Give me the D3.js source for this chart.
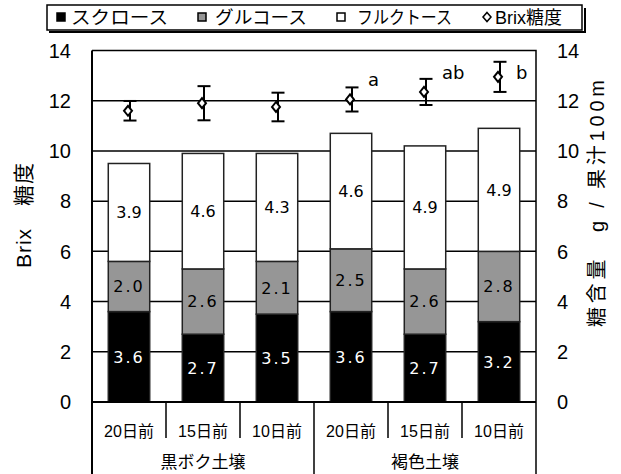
<!DOCTYPE html>
<html>
<head>
<meta charset="utf-8">
<script src="https://cdn.jsdelivr.net/npm/d3@7"></script>
<style>
  body { margin: 0; background: #fff; }
  text { font-family: "Liberation Sans", "Noto Sans CJK JP", sans-serif; fill: #000; }
  .val { font-family: "DejaVu Sans", "Noto Sans CJK JP", sans-serif; }
</style>
</head>
<body>
<div id="vis"></div>
<script>
// data
var days = ["20日前", "15日前", "10日前", "20日前", "15日前", "10日前"],
    soils = ["黒ボク土壌", "褐色土壌"],
    sucrose = [3.6, 2.7, 3.5, 3.6, 2.7, 3.2],
    glucose = [2.0, 2.6, 2.1, 2.5, 2.6, 2.8],
    fructose = [3.9, 4.6, 4.3, 4.6, 4.9, 4.9],
    brix = [11.6, 11.9, 11.75, 12.05, 12.35, 12.95],
    brixErr = [0.39, 0.68, 0.57, 0.48, 0.52, 0.6],
    sigLetters = ["", "", "", "a", "ab", "b"],
    yTicks = [0, 2, 4, 6, 8, 10, 12, 14],
    legendLabels = ["スクロース", "グルコース", "フルクトース", "Brix糖度"];

var width = 621, height = 474,
    pL = 92, pR = 536, pT = 50.5, pB = 402;

var svg = d3.select("#vis").append("svg")
    .attr("width", width)
    .attr("height", height);

var x = d3.scaleBand()
    .domain(d3.range(days.length))
    .range([pL, pR]);

var y = d3.scaleLinear()
    .domain([0, 14])
    .range([pB, pT]);

var barW = x.bandwidth() * 0.56;

// grid lines
svg.selectAll(".grid")
    .data(yTicks.slice(1, -1))
    .enter().append("line")
    .attr("x1", pL).attr("x2", pR)
    .attr("y1", function(d) { return y(d) }).attr("y2", function(d) { return y(d) })
    .attr("stroke", "#000").attr("stroke-width", 1.5);

// stacked bars
var rows = days.map(function(d, i) {
    return {i: i, suc: sucrose[i], glu: glucose[i], fru: fructose[i]};
});
var keys = ["suc", "glu", "fru"],
    fills = {suc: "#000", glu: "#969696", fru: "#fff"},
    textFill = {suc: "#fff", glu: "#000", fru: "#000"},
    spacing = {suc: 2, glu: 2, fru: 0};
var series = d3.stack().keys(keys)(rows);

var layer = svg.selectAll(".layer")
    .data(series)
    .enter().append("g")
    .attr("class", "layer");

layer.selectAll("rect")
    .data(function(s) { return s.map(function(p) { return {key: s.key, p: p} }) })
    .enter().append("rect")
    .attr("x", function(d) { return x(d.p.data.i) + (x.bandwidth() - barW) / 2 })
    .attr("width", barW)
    .attr("y", function(d) { return y(d.p[1]) })
    .attr("height", function(d) { return y(d.p[0]) - y(d.p[1]) })
    .attr("fill", function(d) { return fills[d.key] })
    .attr("stroke", "#222")
    .attr("stroke-width", 1.5);

layer.selectAll("text")
    .data(function(s) { return s.map(function(p) { return {key: s.key, p: p} }) })
    .enter().append("text")
    .attr("class", "val")
    .attr("x", function(d) { return x(d.p.data.i) + x.bandwidth() / 2 })
    .attr("y", function(d) { return (y(d.p[0]) + y(d.p[1])) / 2 })
    .attr("dy", "0.36em")
    .attr("text-anchor", "middle")
    .style("font-size", "16px")
    .style("letter-spacing", function(d) { return spacing[d.key] + "px" })
    .style("fill", function(d) { return textFill[d.key] })
    .text(function(d) { return d.p.data[d.key].toFixed(1) });

// Brix points with error bars
var pts = svg.selectAll(".brix")
    .data(brix)
    .enter().append("g")
    .attr("class", "brix")
    .attr("transform", function(d, i) { return "translate(" + (x(i) + x.bandwidth() / 2 + 1) + ",0)" });

pts.append("line")
    .attr("x1", 0).attr("x2", 0)
    .attr("y1", function(d, i) { return y(d + brixErr[i]) })
    .attr("y2", function(d, i) { return y(d - brixErr[i]) })
    .attr("stroke", "#000").attr("stroke-width", 2);
pts.selectAll(".cap")
    .data(function(d, i) { return [d + brixErr[i], d - brixErr[i]] })
    .enter().append("line")
    .attr("x1", -6.5).attr("x2", 6.5)
    .attr("y1", function(v) { return y(v) }).attr("y2", function(v) { return y(v) })
    .attr("stroke", "#000").attr("stroke-width", 2);
pts.append("path")
    .attr("d", function(d) { var c = y(d); return "M-2," + (c - 5) + "L2," + c + "L-2," + (c + 5) + "L-6," + c + "Z" })
    .attr("fill", "#fff").attr("stroke", "#000").attr("stroke-width", 2);

svg.selectAll(".sig")
    .data(sigLetters)
    .enter().append("text")
    .attr("class", "val")
    .attr("x", function(d, i) { return x(i) + x.bandwidth() / 2 + 17 })
    .attr("y", function(d, i) { return Math.max(y(brix[i]) - 13, 79) })
    .style("font-size", "18px")
    .text(function(d) { return d });

// frame
svg.append("path")
    .attr("d", "M" + pL + "," + pT + "H" + pR + "V" + pB)
    .attr("fill", "none").attr("stroke", "#000").attr("stroke-width", 1.5);
svg.append("line")
    .attr("x1", pL).attr("x2", pL).attr("y1", pT).attr("y2", height)
    .attr("stroke", "#000").attr("stroke-width", 2);
svg.append("line")
    .attr("x1", pL).attr("x2", pR).attr("y1", pB).attr("y2", pB)
    .attr("stroke", "#000").attr("stroke-width", 2);

// category ticks
svg.selectAll(".ctick")
    .data(d3.range(1, days.length + 1))
    .enter().append("line")
    .attr("x1", function(i) { return i < days.length ? x(i) : pR })
    .attr("x2", function(i) { return i < days.length ? x(i) : pR })
    .attr("y1", pB)
    .attr("y2", function(i) { return i % 3 == 0 ? height : 438 })
    .attr("stroke", "#000").attr("stroke-width", 1.5);

svg.selectAll(".day")
    .data(days)
    .enter().append("text")
    .attr("x", function(d, i) { return x(i) + x.bandwidth() / 2 })
    .attr("y", 437)
    .attr("text-anchor", "middle")
    .style("font-size", "16px")
    .text(function(d) { return d });

svg.selectAll(".soil")
    .data(soils)
    .enter().append("text")
    .attr("x", function(d, i) { return (x(i * 3) + (i == 1 ? pR : x(3))) / 2 })
    .attr("y", 468)
    .attr("text-anchor", "middle")
    .style("font-size", "17px")
    .text(function(d) { return d });

// y axes labels
svg.selectAll(".yl")
    .data(yTicks)
    .enter().append("text")
    .attr("x", 71)
    .attr("y", function(d) { return y(d) })
    .attr("dy", "0.36em")
    .attr("text-anchor", "end")
    .style("font-size", "20px")
    .text(function(d) { return d });
svg.selectAll(".yr")
    .data(yTicks)
    .enter().append("text")
    .attr("x", 557)
    .attr("y", function(d) { return y(d) })
    .attr("dy", "0.36em")
    .style("font-size", "20px")
    .text(function(d) { return d });

svg.append("text")
    .attr("transform", "translate(23,215.5) rotate(-90)")
    .attr("dy", "0.36em")
    .attr("text-anchor", "middle")
    .attr("textLength", 105)
    .attr("lengthAdjust", "spacing")
    .style("font-size", "21px")
    .text("Brix\u3000糖度");
svg.append("text")
    .attr("transform", "translate(597,203.5) rotate(-90)")
    .attr("dy", "0.36em")
    .attr("text-anchor", "middle")
    .attr("textLength", 247)
    .attr("lengthAdjust", "spacing")
    .style("font-size", "20px")
    .text("糖含量\u3000g / 果汁100m");

// legend
var lg = svg.append("g");
lg.append("path")
    .attr("d", "M49,32H585V8")
    .attr("fill", "none").attr("stroke", "#000").attr("stroke-width", 2);
lg.append("rect")
    .attr("x", 47).attr("y", 5).attr("width", 535).attr("height", 25)
    .attr("fill", "#fff").attr("stroke", "#000").attr("stroke-width", 1.5);

var symX = [57, 198, 337, 483],
    txtX = [71, 215, 357, 495],
    txtW = [97, 92, 95, 0];
legendLabels.forEach(function(l, i) {
    if (i < 3) {
        lg.append("rect")
            .attr("x", symX[i]).attr("y", 13).attr("width", 8).attr("height", 8)
            .attr("fill", fills[keys[i]]).attr("stroke", "#000").attr("stroke-width", 1.5);
    } else {
        lg.append("path")
            .attr("d", "M" + (symX[i] + 4) + ",12.5L" + (symX[i] + 8) + ",17L" + (symX[i] + 4) + ",21.5L" + symX[i] + ",17Z")
            .attr("fill", "#fff").attr("stroke", "#000").attr("stroke-width", 1.5);
    }
    var t = lg.append("text")
        .attr("x", txtX[i]).attr("y", 24)
        .style("font-size", "18px")
        .text(l);
    if (txtW[i]) t.attr("textLength", txtW[i]).attr("lengthAdjust", "spacingAndGlyphs");
});
</script>
</body>
</html>
